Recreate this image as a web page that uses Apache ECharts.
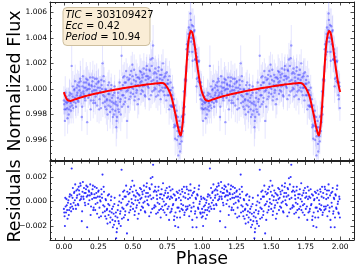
<!DOCTYPE html>
<html><head><meta charset="utf-8">
<script src="https://cdn.jsdelivr.net/npm/echarts@6/dist/echarts.min.js"></script>
<style>html,body{margin:0;padding:0;background:#fff}#c{width:356px;height:271px}</style>
</head><body><div id="c"></div>
<script>
// ---- data (one phase cycle, shown twice as in the original 0..2 phase plot) ----
const phase=[
0.003,0.008,0.013,0.019,0.024,0.030,0.036,0.041,0.047,0.053,
0.057,0.063,0.068,0.074,0.080,0.085,0.091,0.097,0.102,0.108,
0.113,0.119,0.124,0.130,0.135,0.141,0.146,0.152,0.158,0.163,
0.169,0.174,0.180,0.185,0.191,0.197,0.202,0.208,0.213,0.219,
0.224,0.230,0.235,0.241,0.246,0.252,0.258,0.263,0.269,0.274,
0.280,0.285,0.291,0.297,0.302,0.308,0.313,0.319,0.324,0.330,
0.335,0.341,0.346,0.352,0.357,0.363,0.368,0.374,0.379,0.385,
0.390,0.396,0.401,0.407,0.412,0.418,0.423,0.429,0.434,0.440,
0.445,0.451,0.457,0.462,0.468,0.473,0.479,0.484,0.490,0.496,
0.501,0.507,0.512,0.518,0.523,0.529,0.535,0.540,0.546,0.551,
0.557,0.562,0.568,0.573,0.579,0.585,0.590,0.596,0.601,0.607,
0.612,0.618,0.623,0.629,0.634,0.640,0.646,0.651,0.657,0.662,
0.668,0.673,0.679,0.684,0.690,0.696,0.701,0.707,0.712,0.718,
0.723,0.729,0.734,0.740,0.745,0.751,0.756,0.762,0.767,0.773,
0.778,0.784,0.789,0.795,0.800,0.806,0.811,0.817,0.822,0.828,
0.833,0.839,0.844,0.850,0.855,0.861,0.866,0.872,0.877,0.883,
0.888,0.894,0.899,0.905,0.910,0.916,0.921,0.927,0.932,0.938,
0.943,0.949,0.954,0.960,0.965,0.971,0.976,0.982,0.987,0.993,
0.998,
0.0005,0.0055,0.0105,0.016,0.0215,0.027,0.033,0.0385,0.044,0.050,
0.0545,0.060,0.0655,0.071,0.077,0.0825,0.088,0.094,0.0995,0.105,
0.1105,0.116,0.1215,0.127,0.1325,0.138,0.1435,0.149,0.155,0.1605,
0.166,0.1715,0.177,0.183,0.188,0.194,0.1995,0.205,0.2105,0.216,
0.2215,0.227,0.2325,0.238,0.2435,0.249,0.255,0.2605,0.266,0.2715,
0.277,0.2825,0.288,0.294,0.2995,0.305,0.3105,0.316,0.3215,0.327,
0.3325,0.338,0.3435,0.349,0.355,0.3605,0.366,0.3715,0.377,0.3825,
0.388,0.3935,0.399,0.4045,0.410,0.4155,0.421,0.4265,0.432,0.4375,
0.443,0.4485,0.454,0.4595,0.465,0.4705,0.476,0.4815,0.487,0.4925,
0.498,0.5035,0.509,0.5145,0.520,0.5255,0.531,0.5365,0.542,0.5475,
0.5535,0.559,0.5645,0.570,0.5755,0.581,0.5865,0.592,0.5975,0.603,
0.6085,0.614,0.6195,0.625,0.6305,0.636,0.6415,0.6475,0.653,0.6585,
0.664,0.6695,0.675,0.6805,0.686,0.6915,0.697,0.7025,0.708,0.7135,
0.7195,0.725,0.7305,0.736,0.7415,0.747,0.7535,0.759,0.7645,0.770,
0.7755,0.781,0.7865,0.792,0.7975,0.803,0.8085,0.814,0.8195,0.825,
0.8305,0.836,0.8415,0.847,0.8525,0.858,0.8635,0.869,0.8745,0.880,
0.8855,0.891,0.8965,0.902,0.9075,0.913,0.9185,0.924,0.9295,0.935,
0.9405,0.946,0.9515,0.957,0.9625,0.968,0.9735,0.979,0.9845,0.990,
0.9955];
const flux=[
0.9988,0.9975,0.9990,0.9994,0.9985,0.9990,0.9980,0.9995,0.9986,0.9983,
1.0018,0.9994,0.9985,0.9999,0.9993,0.9989,1.0001,0.9997,0.9991,1.0005,
0.9999,1.0008,0.9995,0.9978,1.0002,0.9998,1.0005,0.9993,1.0001,1.0008,
0.9974,1.0000,1.0004,0.9996,1.0009,0.9991,1.0002,1.0006,0.9989,0.9999,
1.0008,0.9994,1.0004,0.9987,1.0001,1.0006,0.9992,0.9998,0.9985,1.0003,
1.0020,0.9995,1.0006,0.9990,1.0000,0.9984,0.9992,1.0003,0.9987,0.9996,
0.9982,1.0000,0.9990,0.9984,0.9995,0.9980,1.0002,0.9988,0.9970,0.9978,
0.9993,0.9984,1.0000,0.9990,0.9980,1.0026,0.9995,1.0009,0.9988,1.0005,
0.9993,1.0014,0.9975,0.9999,1.0007,0.9992,1.0011,0.9997,1.0004,1.0019,
0.9996,1.0007,0.9991,1.0003,1.0011,0.9999,0.9988,1.0009,1.0002,1.0014,
0.9996,1.0006,1.0011,0.9998,1.0016,1.0003,0.9994,1.0010,1.0018,1.0002,
1.0008,0.9992,1.0014,1.0023,1.0006,0.9998,1.0034,1.0012,1.0001,1.0016,
0.9994,1.0009,1.0004,1.0014,0.9998,1.0008,0.9992,1.0011,1.0001,1.0020,
1.0004,0.9995,1.0010,1.0001,1.0013,0.9995,1.0004,0.9984,0.9999,1.0005,
0.9986,0.9995,0.9986,0.9992,0.9972,0.9961,0.9979,0.9983,0.9967,0.9948,
0.9970,0.9957,0.9970,0.9963,0.9978,0.9967,0.9985,0.9980,1.0007,1.0006,
1.0031,1.0023,1.0037,1.0048,1.0040,1.0059,1.0037,1.0050,1.0022,1.0039,
1.0045,1.0023,1.0031,1.0002,1.0025,1.0009,1.0021,1.0005,0.9995,1.0005,
0.9985,
0.9991,0.9984,0.9997,0.9984,0.9989,0.9977,0.9992,0.9984,0.9997,0.9989,
0.9996,0.9987,1.0002,0.9990,1.0000,1.0006,0.9986,0.9995,1.0003,0.9990,
1.0002,0.9994,1.0006,0.9997,0.9986,1.0010,0.9996,1.0001,0.9991,1.0005,
0.9999,1.0007,0.9993,1.0003,1.0000,0.9984,1.0003,0.9998,1.0009,0.9991,
1.0002,0.9989,0.9999,1.0008,0.9996,1.0005,0.9984,1.0001,0.9997,1.0007,
1.0000,0.9989,1.0010,0.9994,0.9986,0.9999,0.9991,0.9980,0.9996,1.0005,
0.9991,0.9986,1.0003,0.9993,0.9978,0.9989,0.9997,0.9983,0.9990,0.9975,
0.9987,0.9997,0.9982,1.0005,0.9992,0.9999,0.9986,1.0003,0.9995,1.0010,
0.9990,1.0005,0.9998,1.0009,0.9986,1.0001,1.0008,0.9994,1.0014,1.0001,
1.0010,1.0000,1.0015,0.9994,1.0006,0.9997,1.0009,1.0003,0.9992,1.0008,
1.0005,1.0013,0.9999,1.0009,1.0002,1.0012,0.9995,1.0007,1.0015,1.0004,
1.0010,1.0001,1.0015,1.0009,0.9995,1.0018,1.0024,1.0007,0.9999,1.0013,
1.0000,1.0012,1.0006,0.9995,1.0017,1.0003,1.0011,0.9999,1.0015,1.0007,
0.9998,1.0009,1.0001,1.0012,0.9991,1.0004,1.0007,0.9995,1.0010,0.9987,
0.9999,0.9987,1.0001,0.9986,0.9970,0.9987,0.9971,0.9979,0.9960,0.9978,
0.9963,0.9975,0.9951,0.9965,0.9959,0.9979,0.9974,0.9998,0.9986,1.0008,
1.0007,1.0035,1.0027,1.0043,1.0029,1.0046,1.0054,1.0040,1.0029,1.0049,
1.0035,1.0046,1.0023,1.0028,1.0008,1.0022,1.0006,1.0022,1.0005,0.9992,
1.0002];
const resid=[
-0.0009,-0.0020,-0.0004,0.0002,-0.0007,-0.0001,-0.0011,0.0004,-0.0005,-0.0008,
0.0027,0.0003,-0.0006,0.0007,0.0001,-0.0003,0.0009,0.0005,-0.0002,0.0012,
0.0006,0.0015,0.0002,-0.0016,0.0008,0.0004,0.0011,-0.0001,0.0007,0.0013,
-0.0021,0.0005,0.0009,0.0001,0.0014,-0.0004,0.0006,0.0010,-0.0007,0.0003,
0.0012,-0.0002,0.0007,-0.0010,0.0004,0.0009,-0.0005,0.0001,-0.0012,0.0006,
0.0022,-0.0003,0.0008,-0.0008,0.0002,-0.0014,-0.0006,0.0005,-0.0011,-0.0003,
-0.0017,0.0001,-0.0009,-0.0015,-0.0004,-0.0019,0.0003,-0.0012,-0.0030,-0.0022,
-0.0007,-0.0016,0.0000,-0.0010,-0.0020,0.0026,-0.0005,0.0008,-0.0013,0.0004,
-0.0008,0.0013,-0.0026,-0.0002,0.0006,-0.0009,0.0010,-0.0004,0.0002,0.0017,
-0.0006,0.0005,-0.0011,0.0001,0.0009,-0.0003,-0.0014,0.0006,-0.0001,0.0011,
-0.0007,0.0003,0.0008,-0.0005,0.0013,0.0000,-0.0009,0.0007,0.0015,-0.0002,
0.0004,-0.0012,0.0010,0.0019,0.0002,-0.0006,0.0030,0.0008,-0.0003,0.0012,
-0.0010,0.0005,-0.0001,0.0009,-0.0007,0.0003,-0.0013,0.0006,-0.0004,0.0015,
0.0000,-0.0009,0.0007,-0.0002,0.0011,-0.0006,0.0004,-0.0015,0.0002,0.0009,
-0.0008,0.0003,-0.0003,0.0006,-0.0012,-0.0020,0.0001,0.0008,-0.0005,-0.0021,
0.0003,-0.0008,0.0006,-0.0002,0.0010,-0.0007,0.0004,-0.0011,0.0007,-0.0004,
0.0012,-0.0006,0.0002,0.0009,-0.0003,0.0014,-0.0008,0.0005,-0.0021,-0.0001,
0.0008,-0.0010,0.0003,-0.0021,0.0006,-0.0005,0.0010,-0.0002,-0.0009,0.0004,
-0.0013,
-0.0006,-0.0012,0.0003,-0.0009,-0.0003,-0.0014,0.0001,-0.0007,0.0006,-0.0002,
0.0005,-0.0004,0.0011,-0.0001,0.0008,0.0014,-0.0006,0.0003,0.0010,-0.0003,
0.0009,0.0001,0.0013,0.0004,-0.0008,0.0016,0.0002,0.0007,-0.0003,0.0010,
0.0004,0.0012,-0.0002,0.0008,0.0005,-0.0011,0.0007,0.0002,0.0013,-0.0005,
0.0006,-0.0007,0.0003,0.0011,-0.0001,0.0008,-0.0013,0.0004,0.0000,0.0010,
0.0003,-0.0009,0.0012,-0.0004,-0.0012,0.0001,-0.0007,-0.0018,-0.0002,0.0006,
-0.0008,-0.0013,0.0004,-0.0006,-0.0021,-0.0010,-0.0002,-0.0016,-0.0009,-0.0025,
-0.0013,-0.0003,-0.0018,0.0005,-0.0008,-0.0001,-0.0014,0.0002,-0.0006,0.0009,
-0.0011,0.0004,-0.0003,0.0008,-0.0015,0.0000,0.0007,-0.0007,0.0012,-0.0001,
0.0008,-0.0002,0.0013,-0.0008,0.0004,-0.0005,0.0007,0.0001,-0.0010,0.0005,
0.0002,0.0010,-0.0004,0.0006,-0.0001,0.0009,-0.0008,0.0004,0.0012,0.0001,
0.0007,-0.0003,0.0011,0.0005,-0.0009,0.0014,0.0020,0.0003,-0.0005,0.0009,
-0.0004,0.0008,0.0002,-0.0009,0.0012,-0.0002,0.0006,-0.0006,0.0010,0.0002,
-0.0007,0.0005,-0.0003,0.0009,-0.0011,0.0003,0.0007,-0.0004,0.0012,-0.0009,
0.0004,-0.0006,0.0010,-0.0002,-0.0015,0.0005,-0.0009,0.0002,-0.0013,0.0007,
-0.0005,0.0009,-0.0013,0.0001,-0.0006,0.0008,-0.0003,0.0012,-0.0009,0.0003,
-0.0007,0.0010,-0.0004,0.0006,-0.0012,0.0003,0.0009,-0.0005,-0.0015,0.0007,
-0.0004,0.0011,-0.0008,0.0002,-0.0013,0.0005,-0.0006,0.0013,0.0000,-0.0010,
0.0002];
const fluxErr=[
0.0008,0.0012,0.0010,0.0007,0.0009,0.0011,0.0008,0.0013,0.0009,0.0010,
0.0016,0.0008,0.0012,0.0009,0.0007,0.0010,0.0011,0.0008,0.0012,0.0009,
0.0010,0.0014,0.0008,0.0011,0.0009,0.0012,0.0010,0.0007,0.0009,0.0013,
0.0010,0.0008,0.0011,0.0009,0.0012,0.0008,0.0010,0.0009,0.0012,0.0007,
0.0011,0.0009,0.0010,0.0013,0.0008,0.0010,0.0009,0.0012,0.0010,0.0008,
0.0014,0.0009,0.0011,0.0010,0.0008,0.0012,0.0009,0.0010,0.0011,0.0008,
0.0013,0.0009,0.0010,0.0012,0.0008,0.0011,0.0009,0.0010,0.0015,0.0012,
0.0009,0.0011,0.0008,0.0010,0.0013,0.0016,0.0009,0.0010,0.0011,0.0008,
0.0012,0.0010,0.0014,0.0009,0.0010,0.0011,0.0008,0.0009,0.0012,0.0010,
0.0009,0.0011,0.0008,0.0010,0.0012,0.0009,0.0011,0.0008,0.0010,0.0013,
0.0009,0.0010,0.0011,0.0008,0.0012,0.0009,0.0010,0.0011,0.0009,0.0010,
0.0012,0.0009,0.0011,0.0013,0.0008,0.0010,0.0016,0.0009,0.0011,0.0010,
0.0009,0.0012,0.0008,0.0010,0.0011,0.0009,0.0012,0.0010,0.0008,0.0011,
0.0009,0.0010,0.0012,0.0009,0.0011,0.0010,0.0008,0.0012,0.0009,0.0011,
0.0010,0.0009,0.0012,0.0010,0.0011,0.0013,0.0009,0.0010,0.0012,0.0011,
0.0009,0.0012,0.0010,0.0011,0.0013,0.0009,0.0012,0.0010,0.0011,0.0012,
0.0014,0.0010,0.0012,0.0013,0.0011,0.0015,0.0012,0.0013,0.0014,0.0011,
0.0012,0.0010,0.0011,0.0013,0.0010,0.0009,0.0012,0.0010,0.0011,0.0009,
0.0010,
0.0011,0.0009,0.0013,0.0008,0.0010,0.0012,0.0009,0.0011,0.0010,0.0008,
0.0009,0.0010,0.0012,0.0008,0.0011,0.0013,0.0009,0.0010,0.0012,0.0009,
0.0010,0.0008,0.0012,0.0009,0.0011,0.0014,0.0008,0.0010,0.0009,0.0012,
0.0009,0.0011,0.0008,0.0010,0.0012,0.0009,0.0010,0.0008,0.0013,0.0009,
0.0010,0.0009,0.0011,0.0012,0.0008,0.0010,0.0011,0.0009,0.0010,0.0012,
0.0009,0.0011,0.0012,0.0010,0.0009,0.0011,0.0010,0.0013,0.0008,0.0010,
0.0010,0.0012,0.0009,0.0011,0.0013,0.0010,0.0009,0.0012,0.0011,0.0014,
0.0011,0.0009,0.0013,0.0010,0.0011,0.0009,0.0012,0.0010,0.0009,0.0011,
0.0012,0.0009,0.0010,0.0011,0.0012,0.0008,0.0010,0.0011,0.0012,0.0009,
0.0010,0.0009,0.0012,0.0011,0.0008,0.0010,0.0011,0.0009,0.0012,0.0010,
0.0009,0.0011,0.0010,0.0008,0.0012,0.0010,0.0009,0.0011,0.0010,0.0009,
0.0010,0.0009,0.0012,0.0011,0.0010,0.0013,0.0014,0.0009,0.0010,0.0011,
0.0009,0.0011,0.0010,0.0012,0.0010,0.0009,0.0011,0.0010,0.0012,0.0009,
0.0010,0.0009,0.0011,0.0012,0.0010,0.0009,0.0011,0.0010,0.0012,0.0010,
0.0009,0.0011,0.0010,0.0012,0.0011,0.0010,0.0012,0.0009,0.0011,0.0013,
0.0010,0.0012,0.0011,0.0013,0.0010,0.0011,0.0012,0.0010,0.0012,0.0011,
0.0013,0.0012,0.0014,0.0011,0.0013,0.0012,0.0015,0.0013,0.0012,0.0014,
0.0011,0.0012,0.0010,0.0013,0.0011,0.0010,0.0012,0.0011,0.0010,0.0009,
0.0010];
const modelPhase=[0,0.01,0.02,0.03,0.04,0.05,0.06,0.07,0.08,0.1,0.12,0.14,0.16,0.18,0.2,0.25,0.3,0.35,0.4,0.45,0.5,0.55,0.6,0.65,0.7,0.71,0.72,0.73,0.74,0.75,0.76,0.77,0.78,0.79,0.8,0.81,0.82,0.83,0.84,0.845,0.85,0.86,0.87,0.88,0.89,0.9,0.91,0.92,0.93,0.94,0.95,0.96,0.97,0.98,0.99,1.0];
const modelFlux=[0.99975,0.99945,0.99922,0.9991,0.99907,0.99906,0.99909,0.99914,0.99918,0.99925,0.99932,0.99939,0.99945,0.9995,0.99956,0.99968,0.9998,0.9999,1.0,1.00009,1.00018,1.00026,1.00034,1.00041,1.00047,1.00047,1.00045,1.00038,1.00025,1.00009,0.9999,0.99965,0.99935,0.9989,0.9984,0.9979,0.9973,0.99685,0.99645,0.99635,0.9965,0.9973,0.9988,1.0005,1.0022,1.00355,1.00425,1.00454,1.0044,1.0039,1.0032,1.0023,1.0015,1.0008,1.0002,0.99975];
const cycles=[0,1];
const xTicks=[0,0.25,0.5,0.75,1,1.25,1.5,1.75,2];
const fluxTicks=[0.996,0.998,1.000,1.002,1.004,1.006];
const residTicks=[-0.002,0,0.002];
const info={TIC:'303109427',Ecc:'0.42',Period:'10.94'};

// ---- build series data ----
const fluxPts=[],errPts=[],resPts=[],modelPts=[];
cycles.forEach(k=>phase.forEach((p,i)=>{
  fluxPts.push([p+k,flux[i]]);
  errPts.push([p+k,flux[i],fluxErr[i]]);
  resPts.push([p+k,resid[i]]);
}));
cycles.forEach((k,ci)=>modelPhase.forEach((p,i)=>{
  if(ci<cycles.length-1 && i===modelPhase.length-1) return;
  modelPts.push([p+k,modelFlux[i]]);
}));

const FONT='DejaVu Sans', AX='#222';
const XR=[-0.1,2.1], FR=[0.99440,1.00680], RR=[-0.00314,0.00327];
function minorOf(ticks,sub,min,max){
  const st=(ticks[1]-ticks[0])/sub,out=[];
  let v=ticks[0]-Math.floor((ticks[0]-min)/st)*st;
  for(;v<=max+1e-12;v+=st){ if(!ticks.some(t=>Math.abs(t-v)<st/10)) out.push(+v.toFixed(8)); }
  return out;
}
const fmtX=v=>v.toFixed(2);
const fmtY=v=>(v<-1e-12?'\u2212':'')+Math.abs(v).toFixed(3);
function ax(g,pos,range,vals,len,line,fmt){
  return {type:'value',gridIndex:g,position:pos,min:range[0],max:range[1],
    axisLine:{show:line,onZero:false,lineStyle:{color:AX,width:1}},
    axisTick:{show:true,inside:true,length:len,customValues:vals,lineStyle:{color:AX,width:0.8}},
    axisLabel:{show:!!fmt,customValues:vals,formatter:fmt||(v=>''),fontFamily:FONT,fontSize:7.5,color:'#000',margin:3},
    splitLine:{show:false},minorTick:{show:false}};
}
const xMinor=minorOf(xTicks,4,XR[0],XR[1]);
const fMinor=minorOf(fluxTicks,4,FR[0],FR[1]);
const rMinor=minorOf(residTicks,4,RR[0],RR[1]);
const xAxis=[], yAxis=[];
[[0,null],[1,fmtX]].forEach(([g,f])=>{
  xAxis.push(ax(g,'bottom',XR,xTicks,3.5,true,f));
  xAxis.push(ax(g,'top',XR,xTicks,3.5,true,null));
  xAxis.push(ax(g,'bottom',XR,xMinor,2,false,null));
  xAxis.push(ax(g,'top',XR,xMinor,2,false,null));
});
[[0,FR,fluxTicks,fMinor],[1,RR,residTicks,rMinor]].forEach(([g,r,t,m])=>{
  yAxis.push(ax(g,'left',r,t,3.5,true,fmtY));
  yAxis.push(ax(g,'right',r,t,3.5,true,null));
  yAxis.push(ax(g,'left',r,m,2,false,null));
  yAxis.push(ax(g,'right',r,m,2,false,null));
});

const chart=echarts.init(document.getElementById('c'),null,{renderer:'canvas'});
chart.setOption({
  animation:false,
  backgroundColor:'#fff',
  textStyle:{fontFamily:FONT},
  grid:[{left:50,top:2,width:304,height:158.5},{left:50,top:161.5,width:304,height:78.5}],
  xAxis, yAxis,
  series:[
    {type:'custom',xAxisIndex:0,yAxisIndex:0,data:errPts,encode:{x:0,y:1},clip:true,z:1,
     renderItem:(params,api)=>{
       const x=api.value(0),y=api.value(1),e=api.value(2);
       const a=api.coord([x,y-e]),b=api.coord([x,y+e]);
       return {type:'line',shape:{x1:a[0],y1:a[1],x2:b[0],y2:b[1]},style:{stroke:'rgba(100,100,255,0.17)',lineWidth:1}};
     }},
    {type:'scatter',xAxisIndex:0,yAxisIndex:0,data:fluxPts,symbol:'circle',symbolSize:2.4,z:2,
     itemStyle:{color:'rgba(30,30,255,0.5)'}},
    {type:'line',xAxisIndex:0,yAxisIndex:0,data:modelPts,showSymbol:false,smooth:0.2,z:3,
     lineStyle:{color:'#ff0000',width:2}},
    {type:'scatter',xAxisIndex:4,yAxisIndex:4,data:resPts,symbol:'circle',symbolSize:2.1,z:2,
     itemStyle:{color:'#0000ff'}}
  ],
  graphic:[
    {type:'text',x:15,y:81,rotation:Math.PI/2,z:100,style:{text:'Normalized Flux',fontFamily:FONT,fontSize:17.5,fill:'#000',align:'center',verticalAlign:'middle'}},
    {type:'text',x:15,y:201,rotation:Math.PI/2,z:100,style:{text:'Residuals',fontFamily:FONT,fontSize:17.5,fill:'#000',align:'center',verticalAlign:'middle'}},
    {type:'text',x:202,y:259,z:100,style:{text:'Phase',fontFamily:FONT,fontSize:17.5,fill:'#000',align:'center',verticalAlign:'middle'}},
    {type:'rect',z:100,shape:{x:63,y:7.5,width:87,height:38,r:4},style:{fill:'#FAEDD6',stroke:'#cdbf9f',lineWidth:1}},
    {type:'text',x:65.5,y:15,z:101,style:{text:'{i|TIC} = '+info.TIC,fontFamily:FONT,fontSize:10,fill:'#000',align:'left',verticalAlign:'middle',rich:{i:{fontStyle:'italic',fontFamily:FONT,fontSize:10}}}},
    {type:'text',x:65.5,y:26,z:101,style:{text:'{i|Ecc} = '+info.Ecc,fontFamily:FONT,fontSize:10,fill:'#000',align:'left',verticalAlign:'middle',rich:{i:{fontStyle:'italic',fontFamily:FONT,fontSize:10}}}},
    {type:'text',x:65.5,y:37,z:101,style:{text:'{i|Period} = '+info.Period,fontFamily:FONT,fontSize:10,fill:'#000',align:'left',verticalAlign:'middle',rich:{i:{fontStyle:'italic',fontFamily:FONT,fontSize:10}}}}
  ]
});
</script></body></html>
